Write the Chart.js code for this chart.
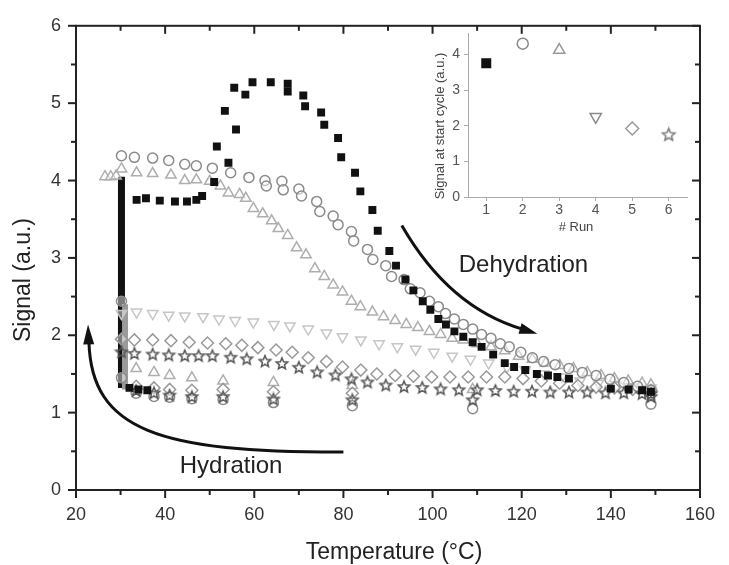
<!DOCTYPE html>
<html>
<head>
<meta charset="utf-8">
<script src="https://cdn.jsdelivr.net/npm/chart.js@4/dist/chart.umd.min.js"></script>
<style>
  html, body { margin:0; padding:0; background:#fff; }
  #wrap { position:relative; width:729px; height:565px; }
  #main { position:absolute; left:0; top:0; }
  #inset { position:absolute; left:410px; top:20px; }
</style>
</head>
<body>
<div id="wrap">
  <canvas id="main" width="729" height="565"></canvas>
  <canvas id="inset" width="290" height="225"></canvas>
</div>
<script>
// run 1 (filled squares)
const run1T = [32, 34, 36, 33.6, 35.7, 38.8, 42.2, 44.9, 47, 48.3, 51, 51.6, 53.4, 54.2, 55.5, 55.9, 58, 59.6, 63.7, 67.5, 67.5, 71, 71.4, 75, 75.7, 78.8, 79.5, 82.6, 83.8, 86.5, 87.7, 90.3, 91.8, 93.9, 95.7, 97.8, 99.5, 101.3, 103, 104.9, 106.9, 109, 111, 113.6, 116.2, 118.3, 120.8, 123.4, 125.9, 128, 130.6, 140, 144, 147, 149];
const run1S = [1.32, 1.3, 1.29, 3.75, 3.77, 3.74, 3.73, 3.73, 3.75, 3.8, 3.98, 4.44, 4.9, 4.23, 5.2, 4.66, 5.11, 5.27, 5.27, 5.25, 5.15, 5.1, 4.96, 4.88, 4.72, 4.55, 4.3, 4.1, 3.86, 3.62, 3.35, 3.09, 2.9, 2.72, 2.58, 2.44, 2.33, 2.21, 2.14, 2.05, 1.98, 1.91, 1.85, 1.75, 1.64, 1.59, 1.55, 1.5, 1.48, 1.46, 1.44, 1.31, 1.3, 1.29, 1.27];
// hydration step of run 1 (solid bar at 30 °C)
const run1HydT = [30.2, 30.2];
const run1HydS = [1.32, 4.05];
// hydration of the later runs (grey mass beside the bar)
const laterHydT = [31, 31];
const laterHydS = [1.3, 2.4];
// run 2 (open circles)
const run2T = [149, 109, 82, 64.3, 53, 46, 41, 37.5, 33.5, 30.2, 30.2, 30.2, 33.1, 37.2, 40.8, 44.4, 47, 50.6, 54.7, 58.8, 62.4, 62.7, 66.2, 66.5, 70, 70.6, 74, 74.7, 77.7, 78.8, 81.8, 82.3, 85.4, 86.6, 89.5, 90.8, 93.6, 95, 97.2, 99.3, 101.3, 102.9, 104.9, 106.9, 109, 111, 113.1, 115.2, 117.2, 119.8, 122.4, 124.9, 127.5, 130.6, 133.6, 136.7, 139.8, 142.9, 146, 149];
const run2S = [1.11, 1.05, 1.09, 1.13, 1.17, 1.18, 1.2, 1.21, 1.25, 1.45, 2.44, 4.32, 4.3, 4.29, 4.26, 4.21, 4.19, 4.16, 4.1, 4.04, 4.0, 3.93, 3.99, 3.88, 3.89, 3.8, 3.73, 3.6, 3.54, 3.43, 3.34, 3.22, 3.11, 2.98, 2.9, 2.76, 2.72, 2.6, 2.55, 2.44, 2.37, 2.28, 2.21, 2.14, 2.08, 2.01, 1.96, 1.89, 1.85, 1.78, 1.71, 1.66, 1.62, 1.57, 1.52, 1.48, 1.43, 1.39, 1.34, 1.29];
// run 3 (open triangles)
const run3T = [109, 82, 64.3, 53, 46, 41, 37.5, 33.5, 26.5, 27.8, 29, 30.2, 33.6, 37.2, 41.3, 44.4, 47, 50, 52.4, 54.2, 56.7, 58.1, 59.8, 61.9, 63.9, 65.4, 67.5, 69.5, 71.6, 73.6, 75.7, 77.7, 79.8, 81.8, 83.8, 86.5, 89, 91.6, 94.1, 96.7, 99.3, 101.8, 104.4, 106.9, 110, 113.1, 116.2, 119.3, 122.4, 125.4, 128.5, 131.6, 134.7, 137.8, 140.8, 143.9, 147, 149];
const run3S = [1.3, 1.35, 1.39, 1.41, 1.45, 1.48, 1.52, 1.57, 4.05, 4.05, 4.06, 4.15, 4.1, 4.09, 4.07, 4.0, 4.01, 3.99, 3.93, 3.84, 3.82, 3.77, 3.64, 3.57, 3.48, 3.38, 3.29, 3.13, 3.04, 2.86, 2.76, 2.65, 2.56, 2.44, 2.37, 2.3, 2.24, 2.19, 2.14, 2.1, 2.05, 2.01, 1.96, 1.94, 1.89, 1.85, 1.8, 1.73, 1.69, 1.64, 1.61, 1.57, 1.52, 1.48, 1.44, 1.41, 1.38, 1.36];
// run 4 (open down triangles)
const run4T = [30.2, 33.6, 37.2, 40.8, 44.4, 48.5, 52.1, 55.7, 59.8, 64.4, 68, 72.1, 76.2, 79.8, 83.9, 88, 92.1, 96.2, 100.3, 104.4, 108.5, 112.6, 116.7, 120.8, 124.9, 129, 133.1, 137.2, 141.3, 145.4, 149];
const run4S = [2.28, 2.3, 2.28, 2.26, 2.25, 2.24, 2.21, 2.19, 2.17, 2.14, 2.12, 2.08, 2.03, 1.98, 1.94, 1.89, 1.85, 1.82, 1.78, 1.73, 1.69, 1.64, 1.59, 1.55, 1.5, 1.46, 1.41, 1.38, 1.35, 1.33, 1.32];
// run 5 (open diamonds)
const run5T = [82, 64.3, 53, 46, 41, 37.5, 33.5, 30.2, 33.1, 37.2, 41.3, 45.4, 49.5, 53.6, 57.2, 60.8, 64.9, 68.5, 72.1, 76.2, 79.8, 83.9, 87.5, 91.6, 95.7, 99.8, 103.9, 108, 112.1, 116.2, 120.3, 124.4, 128.5, 132.6, 136.7, 140.8, 144.9, 149];
const run5S = [1.25, 1.27, 1.3, 1.29, 1.3, 1.32, 1.34, 1.95, 1.94, 1.94, 1.93, 1.91, 1.9, 1.89, 1.87, 1.84, 1.81, 1.78, 1.71, 1.66, 1.59, 1.55, 1.5, 1.48, 1.47, 1.46, 1.46, 1.46, 1.46, 1.46, 1.44, 1.41, 1.38, 1.35, 1.33, 1.32, 1.3, 1.29];
// run 6 (open stars)
const run6T = [149, 109, 82, 64.3, 53, 46, 41, 37.5, 33.5, 30.2, 33.1, 37.2, 40.8, 44.4, 47.5, 50.6, 54.7, 58.3, 62.4, 66.2, 70, 74.1, 78.2, 81.8, 85.4, 89.5, 93.6, 97.7, 101.8, 105.9, 110, 114.1, 118.2, 122.3, 126.4, 130.6, 134.7, 138.8, 142.9, 147, 149];
const run6S = [1.2, 1.16, 1.16, 1.17, 1.2, 1.2, 1.22, 1.25, 1.28, 1.78, 1.76, 1.75, 1.74, 1.73, 1.73, 1.73, 1.71, 1.69, 1.66, 1.63, 1.58, 1.52, 1.48, 1.43, 1.39, 1.35, 1.33, 1.32, 1.3, 1.29, 1.29, 1.28, 1.27, 1.27, 1.26, 1.26, 1.26, 1.25, 1.25, 1.24, 1.24];

// inset
const runNo = [1, 2, 3, 4, 5, 6];
const startSignal = [3.75, 4.3, 4.12, 2.25, 1.92, 1.74];
const insetYTicks = [0, 1, 2, 3, 4];

const xTicks = [20, 40, 60, 80, 100, 120, 140, 160];
const yTicks = [0, 1, 2, 3, 4, 5, 6];

// arrows, in data units: start, control(s), end of curve, tip
const hydArrow = { p0:[80, 0.49], c1:[38.5, 0.485], c2:[23.5, 0.77], p1:[22.9, 1.915], tip:[22.7, 2.14] };
const dehydArrow = { p0:[93.1, 3.42], c:[103.7, 2.36], p1:[120.2, 2.08], tip:[123.5, 2.02] };
const labels = [
  { text:"Hydration", x:54.8, y:0.31 },
  { text:"Dehydration", x:120.4, y:2.9 }
];

const FONT = '"Liberation Sans", Arial, sans-serif';

function starImg(color, r){
  const c = document.createElement('canvas');
  const s = Math.ceil(r*2 + 4);
  c.width = c.height = s;
  const g = c.getContext('2d');
  g.strokeStyle = color; g.lineWidth = 1.5;
  g.beginPath();
  for(let i=0;i<10;i++){
    const rr = i%2 ? r*0.45 : r;
    const a = -Math.PI/2 + i*Math.PI/5;
    g.lineTo(s/2 + rr*Math.cos(a), s/2 + rr*Math.sin(a));
  }
  g.closePath(); g.stroke();
  return c;
}

const pts = (xs, ys) => xs.map((v,i)=>({x:v, y:ys[i]}));
const openFill = 'rgba(255,255,255,0.45)';

const datasets = [
  { data:pts(run1T, run1S), pointStyle:'rect', pointRadius:5.6, backgroundColor:'#111', borderColor:'#111', borderWidth:0 },
  { data:pts(run6T, run6S), pointStyle:starImg('#555', 6), pointRadius:6 },
  { data:pts(run2T, run2S), pointStyle:'circle', pointRadius:5, backgroundColor:openFill, borderColor:'#8a8a8a', borderWidth:1.5 },
  { data:pts(run5T, run5S), pointStyle:'rectRot', pointRadius:6, backgroundColor:openFill, borderColor:'#999', borderWidth:1.5 },
  { data:pts(run3T, run3S), pointStyle:'triangle', pointRadius:6, backgroundColor:openFill, borderColor:'#aeaeae', borderWidth:1.5 },
  { data:pts(run4T, run4S), pointStyle:'triangle', rotation:180, pointRadius:6, backgroundColor:openFill, borderColor:'#c6c6c6', borderWidth:1.5 },
  { data:pts(laterHydT, laterHydS), showLine:true, borderColor:'#9a9a9a', borderWidth:6, pointRadius:0 },
  { data:pts(run1HydT, run1HydS), showLine:true, borderColor:'#111', borderWidth:7, pointRadius:0 }
];

function tick(ctx, x1, y1, x2, y2){
  ctx.beginPath(); ctx.moveTo(x1, y1); ctx.lineTo(x2, y2); ctx.stroke();
}

function arrowHead(ctx, from, tip, len, half){
  const dx = tip[0]-from[0], dy = tip[1]-from[1];
  const d = Math.hypot(dx, dy), ux = dx/d, uy = dy/d;
  const bx = tip[0]-ux*len, by = tip[1]-uy*len;
  ctx.beginPath();
  ctx.moveTo(tip[0], tip[1]);
  ctx.lineTo(bx - uy*half, by + ux*half);
  ctx.lineTo(bx + uy*half, by - ux*half);
  ctx.closePath(); ctx.fill();
}

const framePlugin = {
  id:'frame',
  beforeDatasetsDraw(chart){
    const {ctx, chartArea:a, scales:{x, y}} = chart;
    ctx.save();
    ctx.strokeStyle = '#222'; ctx.lineWidth = 2;
    ctx.strokeRect(a.left, a.top, a.right-a.left, a.bottom-a.top);
    for(let v=20; v<=160; v+=10){
      const px = x.getPixelForValue(v), len = v%20===0 ? 8 : 5;
      tick(ctx, px, a.bottom, px, a.bottom+len);
      tick(ctx, px, a.top, px, a.top+len);
    }
    for(let v=0; v<=6; v+=0.5){
      const py = y.getPixelForValue(v), len = v%1===0 ? 8 : 5;
      tick(ctx, a.left, py, a.left-len, py);
      tick(ctx, a.right, py, a.right-len, py);
    }
    ctx.restore();
  },
  afterDatasetsDraw(chart){
    const {ctx, scales:{x, y}} = chart;
    const P = p => [x.getPixelForValue(p[0]), y.getPixelForValue(p[1])];
    ctx.save();
    ctx.strokeStyle = '#111'; ctx.fillStyle = '#111'; ctx.lineWidth = 3;
    // hydration arrow
    const h = hydArrow, p0 = P(h.p0), c1 = P(h.c1), c2 = P(h.c2), p1 = P(h.p1);
    ctx.beginPath(); ctx.moveTo(...p0); ctx.bezierCurveTo(...c1, ...c2, ...p1); ctx.stroke();
    arrowHead(ctx, c2, P(h.tip), 20, 5.5);
    // dehydration arrow
    const d = dehydArrow, q0 = P(d.p0), qc = P(d.c), q1 = P(d.p1);
    ctx.beginPath(); ctx.moveTo(...q0); ctx.quadraticCurveTo(...qc, ...q1); ctx.stroke();
    arrowHead(ctx, qc, P(d.tip), 18, 5.5);
    // annotations
    ctx.fillStyle = '#222';
    ctx.textAlign = 'center'; ctx.textBaseline = 'middle';
    ctx.font = `24px ${FONT}`;
    labels.forEach(l => ctx.fillText(l.text, x.getPixelForValue(l.x), y.getPixelForValue(l.y)));
    // axis titles
    ctx.font = `23px ${FONT}`;
    ctx.fillText('Temperature (°C)', 394, 553);
    ctx.translate(24, 280); ctx.rotate(-Math.PI/2);
    ctx.fillText('Signal (a.u.)', 0, 0);
    ctx.restore();
  }
};

new Chart(document.getElementById('main'), {
  type:'scatter',
  data:{ datasets },
  options:{
    responsive:false, animation:false, events:[],
    layout:{ padding:{ top:20, right:19, left:0, bottom:0 } },
    plugins:{ legend:{display:false}, tooltip:{enabled:false} },
    scales:{
      x:{
        type:'linear', min:20, max:160,
        afterBuildTicks(s){ s.ticks = xTicks.map(v=>({value:v})); },
        ticks:{ font:{size:18, family:FONT}, color:'#333', padding:14, maxRotation:0 },
        grid:{ display:false, drawTicks:false }, border:{ display:false },
        afterFit(s){ s.height = 75; }
      },
      y:{
        type:'linear', min:0, max:6,
        afterBuildTicks(s){ s.ticks = yTicks.map(v=>({value:v})); },
        ticks:{ font:{size:18, family:FONT}, color:'#333', padding:15 },
        grid:{ display:false, drawTicks:false }, border:{ display:false },
        afterFit(s){ s.width = 76; }
      }
    }
  },
  plugins:[framePlugin]
});

// inset
const insetTitles = {
  id:'insetTitles',
  afterDraw(chart){
    const {ctx} = chart;
    ctx.save();
    ctx.fillStyle = '#444'; ctx.textAlign = 'center'; ctx.textBaseline = 'middle';
    ctx.font = `13px ${FONT}`;
    ctx.fillText('# Run', 166, 207);
    ctx.translate(30, 106); ctx.rotate(-Math.PI/2);
    ctx.fillText('Signal at start cycle (a.u.)', 0, 0);
    ctx.restore();
  }
};

new Chart(document.getElementById('inset'), {
  type:'scatter',
  data:{ datasets:[{
    data:pts(runNo, startSignal),
    pointStyle:['rect', 'circle', 'triangle', 'triangle', 'rectRot', starImg('#777', 6.5)],
    rotation:[0, 0, 0, 180, 0, 0],
    pointRadius:[6, 5.5, 6.5, 6.5, 6.5, 6.5],
    backgroundColor:['#111', 'rgba(0,0,0,0)', 'rgba(0,0,0,0)', 'rgba(0,0,0,0)', 'rgba(0,0,0,0)', 'rgba(0,0,0,0)'],
    borderColor:['#111', '#888', '#999', '#888', '#999', '#777'],
    borderWidth:1.5
  }]},
  options:{
    responsive:false, animation:false, events:[],
    layout:{ padding:{ top:13, right:13, left:0, bottom:0 } },
    plugins:{ legend:{display:false}, tooltip:{enabled:false} },
    scales:{
      x:{
        type:'linear', min:0.5, max:6.5,
        afterBuildTicks(s){ s.ticks = runNo.map(v=>({value:v})); },
        ticks:{ font:{size:14, family:FONT}, color:'#555', padding:1 },
        grid:{ drawOnChartArea:false, tickLength:4, color:'#aaa' },
        border:{ color:'#aaa', width:1 },
        afterFit(s){ s.height = 48; }
      },
      y:{
        type:'linear', min:0, max:4.6,
        afterBuildTicks(s){ s.ticks = insetYTicks.map(v=>({value:v})); },
        ticks:{ font:{size:14, family:FONT}, color:'#555', padding:4 },
        grid:{ drawOnChartArea:false, tickLength:4, color:'#aaa' },
        border:{ color:'#aaa', width:1 },
        afterFit(s){ s.width = 58; }
      }
    }
  },
  plugins:[insetTitles]
});
</script>
</body>
</html>
